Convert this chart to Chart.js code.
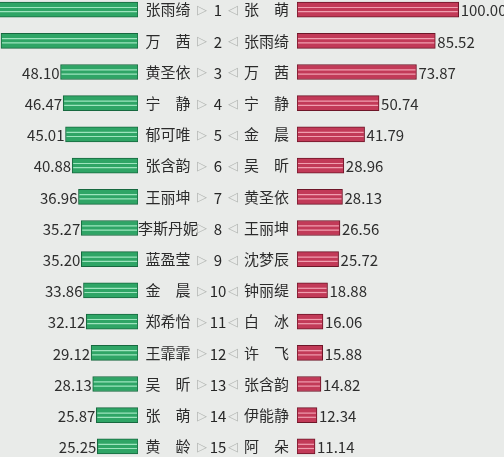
<!DOCTYPE html>
<html>
<head>
<meta charset="utf-8">
<script src="https://cdn.jsdelivr.net/npm/chart.js@4"></script>
<style>
  html, body { margin: 0; padding: 0; width: 504px; height: 457px; overflow: hidden; background: #e9ebe9; }
  #leftBox { position: absolute; left: 0; top: -6px; }
  #rightBox { position: absolute; left: 190px; top: -6px; }
</style>
</head>
<body>
<div id="leftBox"><canvas id="leftChart" width="205" height="468"></canvas></div>
<div id="rightBox"><canvas id="rightChart" width="314" height="468"></canvas></div>
<script>
const ranks = ["1", "2", "3", "4", "5", "6", "7", "8", "9", "10", "11", "12", "13", "14", "15"];
const leftNames = ["张雨绮", "万　茜", "黄圣依", "宁　静", "郁可唯", "张含韵", "王丽坤", "李斯丹妮", "蓝盈莹", "金　晨", "郑希怡", "王霏霏", "吴　昕", "张　萌", "黄　龄"];
const leftValues = [100, 85.1, 48.10, 46.47, 45.01, 40.88, 36.96, 35.27, 35.20, 33.86, 32.12, 29.12, 28.13, 25.87, 25.25];
const rightNames = ["张　萌", "张雨绮", "万　茜", "宁　静", "金　晨", "吴　昕", "黄圣依", "王丽坤", "沈梦辰", "钟丽缇", "白　冰", "许　飞", "张含韵", "伊能静", "阿　朵"];
const rightValues = [100.00, 85.52, 73.87, 50.74, 41.79, 28.96, 28.13, 26.56, 25.72, 18.88, 16.06, 15.88, 14.82, 12.34, 11.14];

const FONT = "'Noto Sans CJK SC', 'Noto Sans', sans-serif";

// two light lines across each bar, like the striped bars in the picture
const stripes = {
  id: "stripes",
  afterDatasetsDraw(chart, args, opts) {
    const ctx = chart.ctx;
    ctx.save();
    ctx.strokeStyle = opts.color;
    ctx.lineWidth = 1.2;
    chart.getDatasetMeta(0).data.forEach((bar) => {
      const { x, y, base, height } = bar.getProps(["x", "y", "base", "height"], true);
      const l = Math.min(x, base) + 1;
      const r = Math.max(x, base) - 1;
      const top = y - height / 2;
      [0.36, 0.64].forEach((f) => {
        ctx.beginPath();
        ctx.moveTo(l, top + height * f);
        ctx.lineTo(r, top + height * f);
        ctx.stroke();
      });
    });
    ctx.restore();
  },
};

// value text at the outer end of each bar
const valueLabels = {
  id: "valueLabels",
  afterDatasetsDraw(chart, args, opts) {
    const ctx = chart.ctx;
    const values = chart.data.datasets[0].data;
    ctx.save();
    ctx.font = "15px " + FONT;
    ctx.fillStyle = "#2e2e2e";
    ctx.textBaseline = "middle";
    ctx.textAlign = opts.side === "left" ? "right" : "left";
    chart.getDatasetMeta(0).data.forEach((bar, i) => {
      const dx = opts.side === "left" ? -1 : 2;
      ctx.fillText(values[i].toFixed(2), bar.x + dx, bar.y + 1);
    });
    ctx.restore();
  },
};

// rank column with the little arrows
const rankColumn = {
  id: "rankColumn",
  afterDraw(chart) {
    const ctx = chart.ctx;
    const y = chart.scales.y;
    ctx.save();
    ctx.textAlign = "center";
    ctx.textBaseline = "middle";
    ranks.forEach((r, i) => {
      const py = y.getPixelForValue(i) + 1;
      ctx.font = "13px 'DejaVu Sans', sans-serif";
      ctx.fillStyle = "#b3b6b3";
      ctx.fillText("▷", 12, py);
      ctx.fillText("◁", 43, py);
      ctx.font = "15px " + FONT;
      ctx.fillStyle = "#262626";
      ctx.fillText(r, 28, py);
    });
    ctx.restore();
  },
};

// no extra half-label padding above the first row / below the last one
function noEdgePadding(scale) {
  scale.paddingTop = 0;
  scale.paddingBottom = 0;
}

new Chart(document.getElementById("leftChart"), {
  type: "bar",
  data: {
    labels: leftNames,
    datasets: [
      {
        data: leftValues,
        backgroundColor: "#2fa566",
        borderColor: "#17683f",
        borderWidth: 1,
        borderSkipped: false,
        barThickness: 15,
      },
    ],
  },
  options: {
    indexAxis: "y",
    responsive: false,
    animation: false,
    layout: { padding: 0 },
    plugins: {
      legend: { display: false },
      tooltip: { enabled: false },
      stripes: { color: "rgba(170, 235, 200, 0.9)" },
      valueLabels: { side: "left" },
    },
    scales: {
      x: { reverse: true, min: 0, max: 85.7, display: false },
      y: {
        position: "right",
        grid: { display: false, drawTicks: false },
        border: { display: false },
        ticks: { crossAlign: "center", padding: 0, color: "#2b2b2b", font: { family: FONT, size: 15 } },
        afterFit(scale) {
          scale.width = 67;
          noEdgePadding(scale);
        },
      },
    },
  },
  plugins: [stripes, valueLabels],
});

new Chart(document.getElementById("rightChart"), {
  type: "bar",
  data: {
    labels: rightNames,
    datasets: [
      {
        data: rightValues,
        backgroundColor: "#c23a58",
        borderColor: "#6e1628",
        borderWidth: 1,
        borderSkipped: false,
        barThickness: 15,
      },
    ],
  },
  options: {
    indexAxis: "y",
    responsive: false,
    animation: false,
    layout: { padding: 0 },
    plugins: {
      legend: { display: false },
      tooltip: { enabled: false },
      stripes: { color: "rgba(245, 170, 185, 0.9)" },
      valueLabels: { side: "right" },
    },
    scales: {
      x: { min: 0, max: 128, display: false },
      y: {
        position: "left",
        grid: { display: false, drawTicks: false },
        border: { display: false },
        ticks: { crossAlign: "center", padding: 8, color: "#2b2b2b", font: { family: FONT, size: 15 } },
        afterFit(scale) {
          scale.width = 107;
          noEdgePadding(scale);
        },
      },
    },
  },
  plugins: [stripes, valueLabels, rankColumn],
});
</script>
</body>
</html>
